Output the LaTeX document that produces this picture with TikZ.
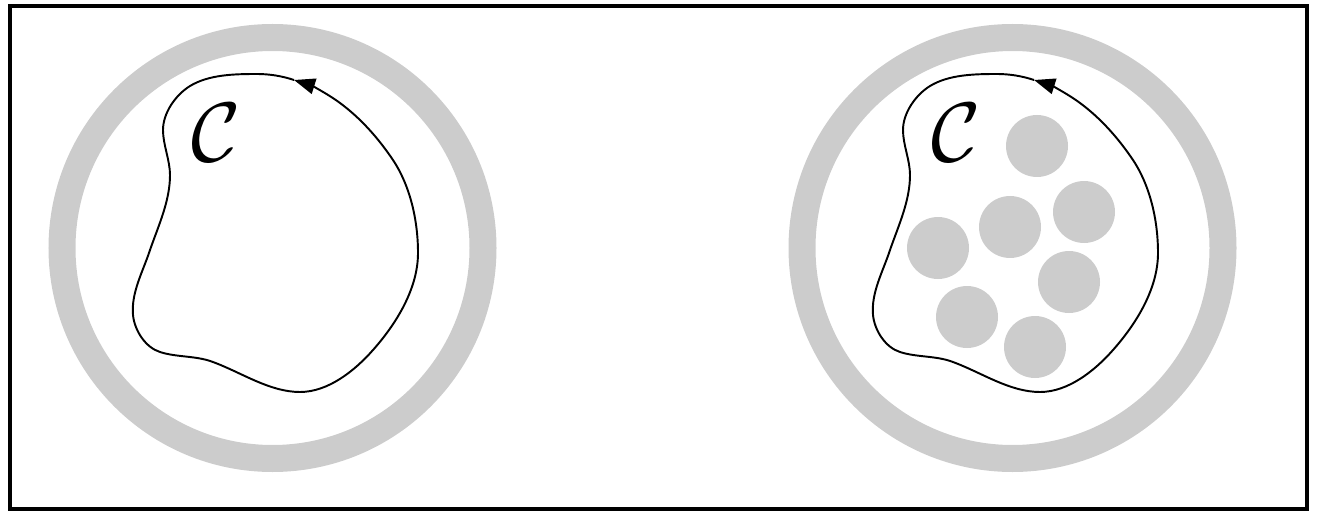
\documentclass[tikz,border=0pt]{standalone}
\usetikzlibrary{arrows.meta}

\begin{document}
\begin{tikzpicture}[
  ring/.style={draw=black!20, line width=0.54cm},
  blob/.style={fill=black!20},
  frame/.style={line width=0.08cm},
  loopline/.style={line width=1.1pt, -{Triangle[length=12pt,width=9pt]}}
]
\useasboundingbox (0,0) rectangle (26.38,10.5);
\draw[frame] (0.20,0.32) rectangle (26.13,10.38);

% the two panels, same ring and loop
\foreach \dx/\side in {0/left,14.8/right}{
\begin{scope}[xshift=\dx cm]
\draw[ring] (5.45,5.54) circle (4.21);

\draw[loopline]
(5.88,8.90) .. controls (5.64,8.98) and (5.39,9.02) .. (5.14,9.02)
.. controls (4.69,9.02) and (4.18,9.01) .. (3.80,8.78)
.. controls (3.51,8.60) and (3.26,8.24) .. (3.26,7.90)
.. controls (3.26,7.60) and (3.40,7.30) .. (3.40,7.00)
.. controls (3.40,6.48) and (3.17,5.99) .. (3.00,5.50)
.. controls (2.86,5.07) and (2.62,4.65) .. (2.66,4.20)
.. controls (2.69,3.89) and (2.91,3.55) .. (3.20,3.46)
.. controls (3.54,3.35) and (3.92,3.39) .. (4.26,3.26)
.. controls (4.83,3.05) and (5.39,2.66) .. (6.00,2.66)
.. controls (6.56,2.66) and (7.09,3.08) .. (7.46,3.50)
.. controls (7.93,4.03) and (8.36,4.73) .. (8.36,5.44)
.. controls (8.36,6.08) and (8.21,6.77) .. (7.86,7.30)
.. controls (7.57,7.73) and (7.22,8.13) .. (6.80,8.44)
.. controls (6.53,8.64) and (6.20,8.80) .. (5.88,8.90);

\node[scale=4.8] (C\side) at (4.32,7.84) {$\mathcal{C}$};
\end{scope}
}

% particles inside the right loop
\foreach \px/\py in {20.74/7.58, 21.68/6.26, 20.20/5.96, 18.76/5.54,
                     21.38/4.86, 19.34/4.16, 20.70/3.56}
  \fill[blob] (\px,\py) circle (0.62);
\end{tikzpicture}
\end{document}
